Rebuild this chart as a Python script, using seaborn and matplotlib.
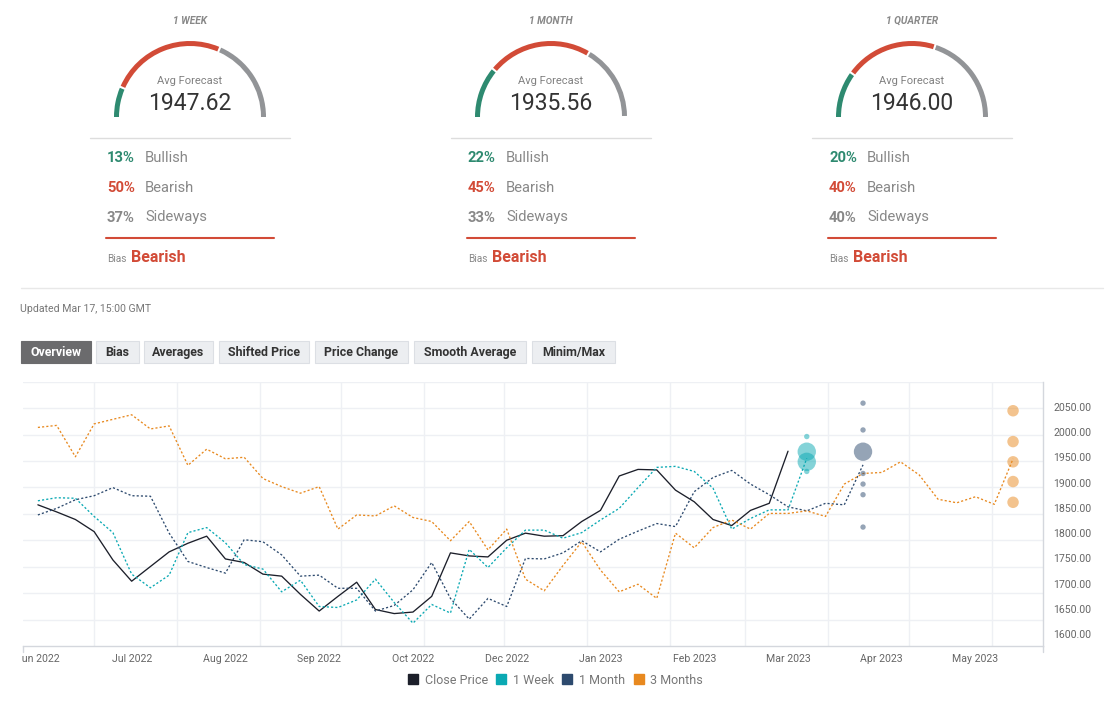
import matplotlib
matplotlib.use("Agg")
import matplotlib.pyplot as plt
import matplotlib.dates as mdates
from matplotlib.lines import Line2D
from matplotlib.patches import Wedge, Rectangle
import numpy as np
import pandas as pd
import seaborn as sns

# ── data ─────────────────────────────────────────────────────────────────────
GAUGE_TITLES = ["1 WEEK", "1 MONTH", "1 QUARTER"]
AVG_FORECAST = [1947.62, 1935.56, 1946.00]
BULLISH = [13, 22, 20]
BEARISH = [50, 45, 40]
SIDEWAYS = [37, 33, 40]
BIAS = ["Bearish", "Bearish", "Bearish"]

TABS = ["Overview", "Bias", "Averages", "Shifted Price", "Price Change",
        "Smooth Average", "Minim/Max"]

START = "2022-06-10"   # first weekly sample
CLOSE = [1856, 1842, 1827, 1803, 1747, 1705, 1734, 1763, 1780, 1794,
         1749, 1742, 1719, 1715, 1679, 1646, 1675, 1703, 1649, 1641,
         1644, 1675, 1761, 1755, 1753, 1786, 1800, 1794, 1795, 1823,
         1845, 1913, 1926, 1925, 1885, 1862, 1827, 1815, 1845, 1859,
         1962]
WEEK1 = [1864, 1870, 1869, 1833, 1801, 1719, 1692, 1717, 1801, 1811,
         1781, 1738, 1729, 1684, 1707, 1655, 1653, 1668, 1709, 1663,
         1622, 1659, 1642, 1768, 1732, 1771, 1806, 1806, 1790, 1801,
         1826, 1849, 1890, 1930, 1932, 1922, 1889, 1808, 1829, 1846,
         1846, 1948]
MONTH1 = [1836, 1849, 1866, 1874, 1890, 1874, 1873, 1800, 1744, 1732,
          1721, 1787, 1783, 1757, 1715, 1717, 1691, 1691, 1646, 1657,
          1688, 1742, 1671, 1630, 1671, 1655, 1750, 1749, 1761, 1785,
          1763, 1788, 1804, 1819, 1813, 1882, 1910, 1924, 1897, 1876,
          1852, 1844, 1859, 1856, 1935]
MONTH3 = [2009, 2013, 1951, 2016, 2025, 2034, 2006, 2012, 1934, 1966,
          1947, 1950, 1908, 1892, 1879, 1892, 1808, 1836, 1834, 1854,
          1831, 1823, 1785, 1823, 1767, 1808, 1709, 1686, 1736, 1783,
          1727, 1684, 1699, 1671, 1800, 1771, 1811, 1826, 1808, 1839,
          1839, 1844, 1833, 1897, 1918, 1920, 1941, 1915, 1867, 1860,
          1872, 1857, 1947]

WEEK_BUBBLE_DATE = "2023-03-24"
WEEK_BUBBLES = [1991, 1961, 1941, 1922]
WEEK_COUNTS = [1, 4, 4, 1]
MONTH_BUBBLE_DATE = "2023-04-14"
MONTH_BUBBLES = [2057, 2004, 1961, 1918, 1897, 1876, 1812]
MONTH_COUNTS = [1, 1, 4, 1, 1, 1, 1]
QUARTER_BUBBLE_DATE = "2023-06-09"
QUARTER_BUBBLES = [2042, 1981, 1941, 1902, 1861]
QUARTER_COUNTS = [2, 2, 2, 2, 2]

Y_TICKS = [1600, 1650, 1700, 1750, 1800, 1850, 1900, 1950, 2000, 2050]

SERIES = ["Close Price", "1 Week", "1 Month", "3 Months"]
COLORS = {"Close Price": "#1c1f2a", "1 Week": "#0aa9b3",
          "1 Month": "#2d4a6e", "3 Months": "#e8891f"}

GREEN, RED, GRAY = "#2e8a70", "#d24b37", "#929497"

# ── frames ───────────────────────────────────────────────────────────────────
frames = []
for name, vals in zip(SERIES, [CLOSE, WEEK1, MONTH1, MONTH3]):
    frames.append(pd.DataFrame({
        "date": pd.date_range(START, periods=len(vals), freq="7D"),
        "value": vals, "series": name}))
lines = pd.concat(frames, ignore_index=True)

bub = pd.concat([
    pd.DataFrame({"date": pd.Timestamp(WEEK_BUBBLE_DATE), "value": WEEK_BUBBLES,
                  "count": WEEK_COUNTS, "series": "1 Week"}),
    pd.DataFrame({"date": pd.Timestamp(MONTH_BUBBLE_DATE), "value": MONTH_BUBBLES,
                  "count": MONTH_COUNTS, "series": "1 Month"}),
    pd.DataFrame({"date": pd.Timestamp(QUARTER_BUBBLE_DATE), "value": QUARTER_BUBBLES,
                  "count": QUARTER_COUNTS, "series": "3 Months"}),
], ignore_index=True)

# ── figure ───────────────────────────────────────────────────────────────────
sns.set_theme(style="white")
plt.rcParams["font.family"] = ["Roboto", "DejaVu Sans"]

W, H = 1116, 702
fig = plt.figure(figsize=(W / 100, H / 100), dpi=100)

# main chart, placed in pixel units
L, R, T, B = 22.7, 1043.3, 381.7, 646.0
ax = fig.add_axes([L / W, 1 - B / H, (R - L) / W, (B - T) / H])

sns.lineplot(data=lines, x="date", y="value", hue="series", style="series",
             palette=COLORS, hue_order=SERIES, style_order=SERIES,
             dashes={"Close Price": "", "1 Week": (1.6, 1.6),
                     "1 Month": (1.6, 1.6), "3 Months": (1.6, 1.6)},
             linewidth=0.95, legend=False, ax=ax, zorder=3)
sns.scatterplot(data=bub, x="date", y="value", hue="series", palette=COLORS,
                size="count", sizes=(15, 175), size_norm=(1, 4),
                alpha=0.5, linewidth=0, legend=False, ax=ax, zorder=4)

ylo, yhi = 1576.9, 2099.4
ax.set_ylim(ylo, yhi)
ax.set_xlim(pd.Timestamp("2022-06-04 08:00"), pd.Timestamp("2023-06-20 07:00"))
ax.set_xlabel("")
ax.set_ylabel("")

ax.yaxis.tick_right()
ax.set_yticks(Y_TICKS)
ax.set_yticklabels([f"{v:.2f}" for v in Y_TICKS])
ax.set_yticks(np.linspace(ylo, yhi, 11)[1:], minor=True)

xt = pd.date_range(START, periods=11, freq="35D")
ax.set_xticks(xt)
ax.set_xticklabels([d.strftime("%b %Y") for d in xt])
ax.set_xticks(mdates.date2num(pd.date_range("2022-07-01", "2023-06-01", freq="MS")),
              minor=True)

ax.grid(False, which="major")
ax.grid(True, which="minor", color="#eef0f4", linewidth=1.0)
ax.tick_params(which="both", length=0)
ax.tick_params(axis="y", pad=7, labelsize=7.6, labelcolor="#666666")
ax.tick_params(axis="x", pad=5.5, labelsize=7.6, labelcolor="#666666")
for s in ["left", "top"]:
    ax.spines[s].set_visible(False)
for s in ["right", "bottom"]:
    ax.spines[s].set_color("#d4d7dd")
    ax.spines[s].set_linewidth(1.0)

# overlay in pixel coordinates for the dashboard parts
ov = fig.add_axes([0, 0, 1, 1], zorder=5)
ov.set_xlim(0, W)
ov.set_ylim(H, 0)
ov.axis("off")

# axis end ticks and clipping of the first date label
for xx in (L, R):
    ov.plot([xx, xx], [B, B + 5.5], color="#d4d7dd", lw=1.0)
ov.add_patch(Rectangle((0, 648), 21.5, 22, color="white", lw=0))

for i in range(3):
    cx, cy = 190 + 361 * i, 117
    start = 180.0
    for pct, col in [(BULLISH[i], GREEN), (BEARISH[i], RED), (SIDEWAYS[i], GRAY)]:
        end = start - pct * 1.8
        g1 = 0.8 if start < 180 else 0
        g2 = 0.8 if end > 0 else 0
        ov.add_patch(Wedge((cx, cy), 76, -start + g1, -end - g2, width=5,
                           color=col, lw=0))
        start = end
    ov.text(cx, 21, GAUGE_TITLES[i], ha="center", va="center", fontsize=7.3,
            style="italic", fontweight="semibold", color="#888888")
    ov.text(cx, 81.5, "Avg Forecast", ha="center", va="center", fontsize=8,
            color="#808080")
    ov.text(cx, 103.5, f"{AVG_FORECAST[i]:.2f}", ha="center", va="center",
            fontsize=16.5, color="#333333")
    ov.plot([cx - 100, cx + 100], [138, 138], color="#dddddd", lw=1.0)
    rows = [(BULLISH[i], "Bullish", GREEN), (BEARISH[i], "Bearish", RED),
            (SIDEWAYS[i], "Sideways", "#888888")]
    for j, (pct, lab, col) in enumerate(rows):
        yy = 157.5 + 30 * j
        ov.text(cx - 83, yy, f"{pct}%", ha="left", va="center", fontsize=10.6,
                fontweight="bold", color=col)
        ov.text(cx - 45, yy, lab, ha="left", va="center", fontsize=10.6,
                color="#888888")
    ov.plot([cx - 84, cx + 84], [237.5, 237.5], color=RED, lw=1.5)
    ov.text(cx - 83, 259, "Bias", ha="left", va="center", fontsize=7.3,
            color="#888888")
    ov.text(cx - 59, 257.5, BIAS[i], ha="left", va="center", fontsize=11.5,
            fontweight="bold", color=RED)

ov.plot([21, 1103], [288, 288], color="#e8e8e8", lw=1.0)
ov.text(20, 309, "Updated Mar 17, 15:00 GMT", ha="left", va="center",
        fontsize=7.6, color="#777777")

tab_x = [(21, 91), (96, 139), (144, 213), (219, 309), (315, 408),
         (414, 526), (532, 615)]
for k, (lab, (x0, x1)) in enumerate(zip(TABS, tab_x)):
    active = k == 0
    ov.add_patch(Rectangle((x0, 341), x1 - x0, 22,
                           facecolor="#6b6b6d" if active else "#eceef1",
                           edgecolor="#6b6b6d" if active else "#dcdfe4", lw=0.8))
    ov.text((x0 + x1) / 2, 352.5, lab, ha="center", va="center", fontsize=8.9,
            fontweight="bold", color="white" if active else "#333333")

handles = [Line2D([], [], marker="s", linestyle="", markersize=7.5,
                  color=COLORS[s]) for s in SERIES]
fig.legend(handles, SERIES, loc="center", bbox_to_anchor=(555 / W, 1 - 680 / H),
           ncol=4, frameon=False, fontsize=9, handletextpad=0.45,
           columnspacing=0.55, handlelength=1.0, labelcolor="#777777")

fig.savefig("out.png", dpi=100)
